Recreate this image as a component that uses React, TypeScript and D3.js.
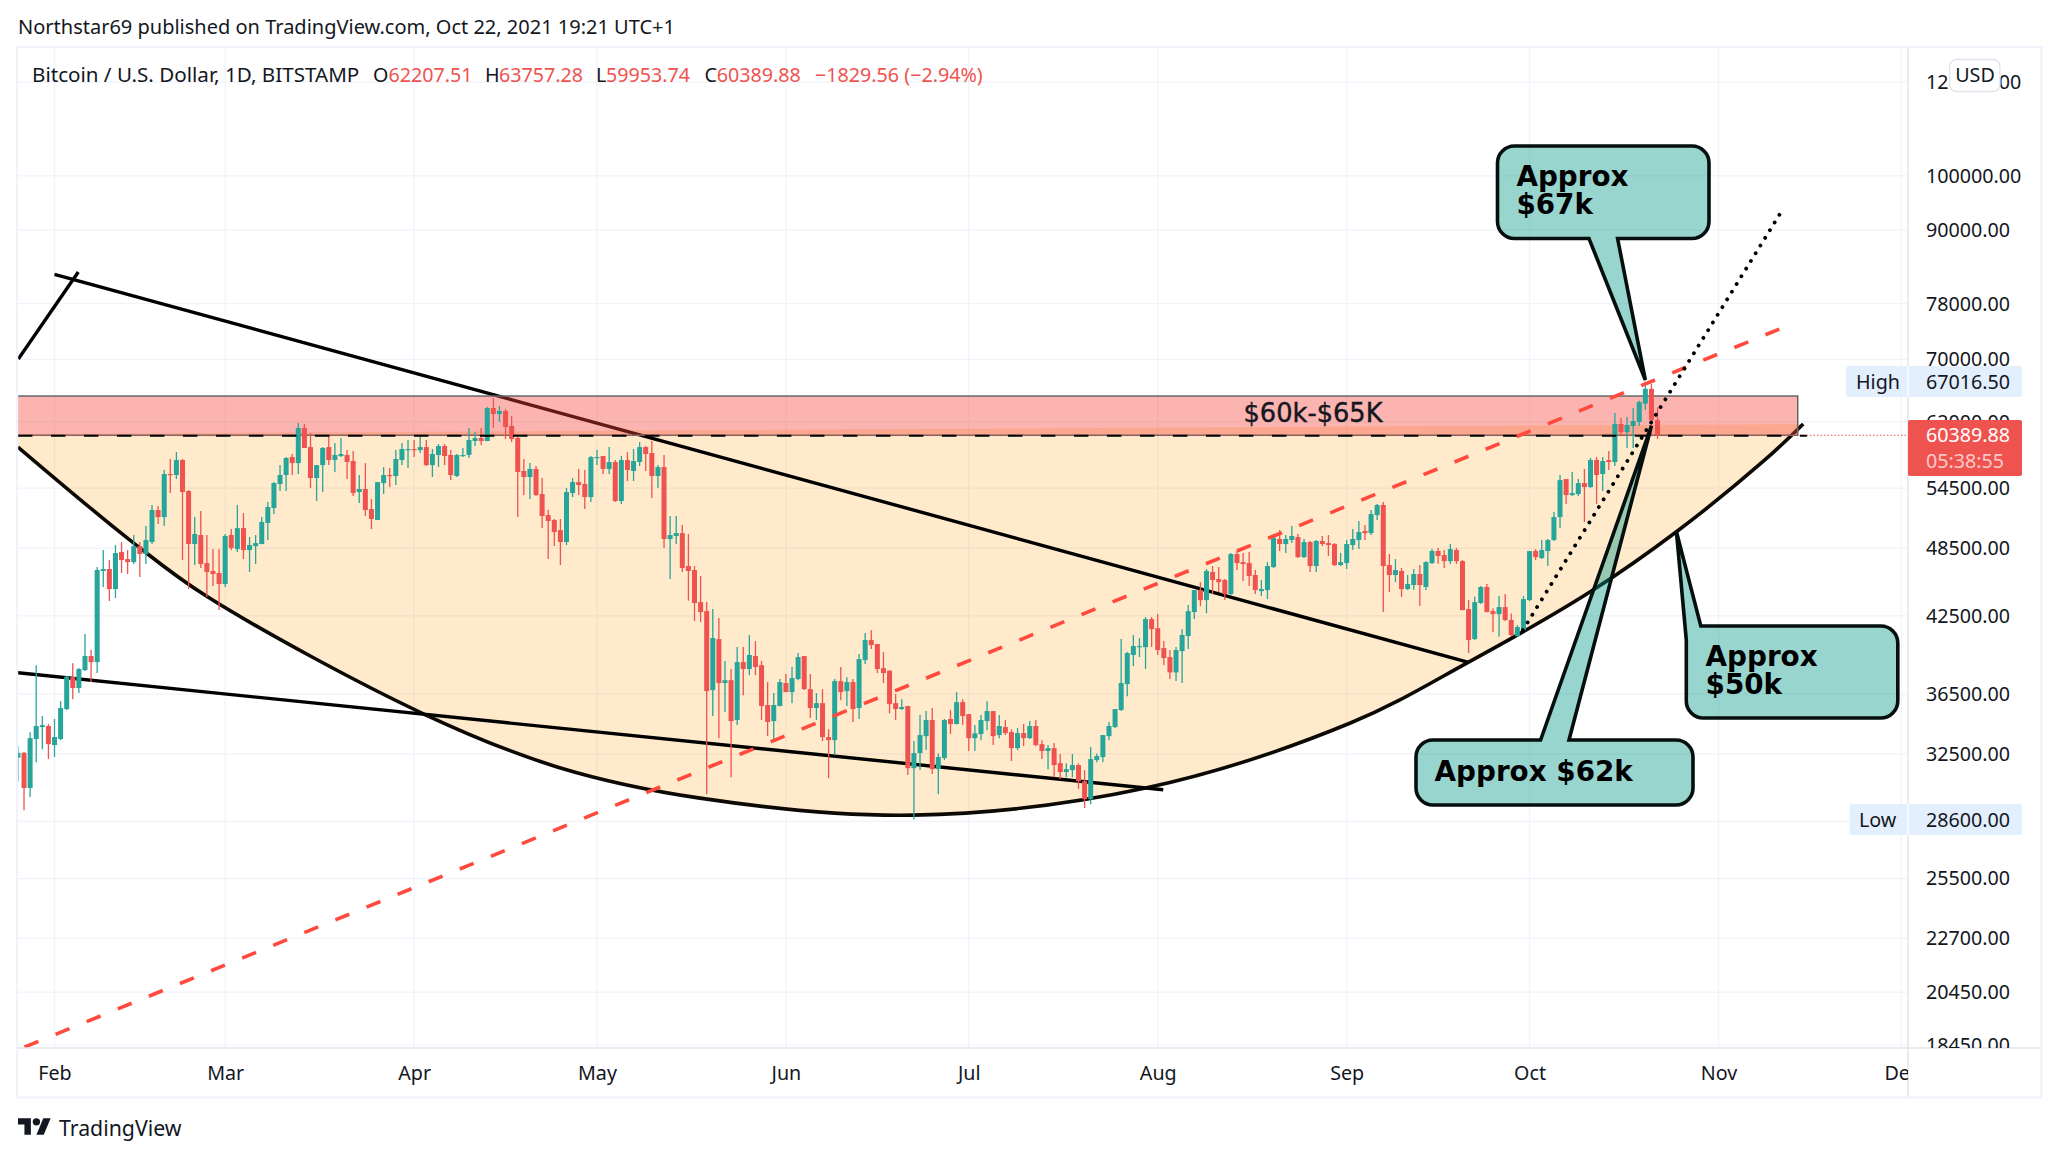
// @ts-nocheck
import React, { useEffect, useRef } from "react";
import * as d3 from "d3";

// daily candles, Jan 26 to Oct 22 2021
const firstCandle = Date.UTC(2021, 0, 26);
const opens = [
  32260,32570,30410,33450,34240,34310,
  33060,33450,35460,37730,36940,38250,39310,38850,46380,46560,44780,48120,47470,47190,48680,47940,49070,52220,51510,56010,55900,57550,54190,48880,49740,47100,46380,46200,
  45220,49740,48400,50420,48310,48680,48880,50920,52420,54930,55900,57890,57210,61250,59020,55570,56990,59020,57550,58000,58120,57440,54080,54400,52320,51220,55030,55900,55790,57550,58680,
  58800,58680,59020,56990,58120,59140,58120,55790,58000,58120,59720,60070,59720,63680,62940,63310,61490,60070,56340,55680,56560,53870,51710,51220,50220,49070,53970,55140,54930,53550,
  57780,58000,56560,57330,53140,57550,56340,57330,59020,58340,55790,56770,49360,49650,49930,46830,46470,43660,42900,36790,40630,37300,37510,34710,38850,38330,39310,38620,35740,34640,35670,
  37300,36650,37590,39310,36860,35530,35870,33580,33380,37440,36720,37370,35530,39000,40550,40240,38400,38200,35870,35460,35670,31610,32550,33640,34710,31550,32240,34780,34440,35940,
  35110,33510,33780,34640,35320,33710,34240,33905,32865,33840,33510,34310,33120,32680,32865,31920,31370,31490,31800,30820,29760,32110,32300,33640,34240,35390,37220,39390,40000,40000,42240,
  41500,39920,39230,38080,39690,40870,42820,44690,43830,46290,45660,45570,44350,47940,47190,47100,46020,44600,44690,46740,49360,48880,49260,49550,47650,49070,46830,49170,48970,48880,46920,
  47100,48780,49260,50130,49930,51710,52730,46920,46020,46380,44780,45130,46110,44960,47100,48220,47840,47280,48310,47280,43070,40630,43580,44960,42900,42650,43240,42160,40870,41340,
  43830,48220,47560,48220,49260,51510,55460,53760,53870,55030,54610,57550,56010,57550,57330,61730,60770,61490,61970,64220,66100,62207.51,
];
const highs = [
  32990,32630,33900,38620,34980,34440,
  34780,36010,37810,38770,38400,41030,39770,46740,48310,47380,48780,49070,48310,49740,49070,50620,52730,52630,56450,57670,58460,57670,54290,51510,52120,49740,48400,48400,
  49840,50320,52730,51910,49550,49740,51510,53040,55140,56990,57890,58230,61850,61730,60660,57000,59020,60310,59490,60070,58680,58570,55900,57210,53350,55140,56770,56670,58680,59490,59840,
  59840,60190,59840,58800,59370,59370,58680,58230,58910,61250,60770,61250,63810,64930,63930,63560,62700,60190,57670,57210,56880,55570,52220,51320,51320,54510,55570,56560,56450,58000,
  58680,58000,59020,57550,58000,58460,58800,59600,59140,59720,56990,58120,51610,51610,50720,49840,46830,45930,43660,43070,42330,38930,38330,40000,40000,40950,40470,38930,37370,36580,37590,
  37960,38480,39540,39320,37960,36580,36860,34100,37590,38480,37730,37590,39470,41110,41340,40240,39620,38250,36510,36150,35680,33320,35050,35320,35530,32530,34780,35390,36650,36150,
  35120,34370,35050,36010,35330,35050,34710,34080,34170,34440,34640,34710,33380,33060,33190,32490,31920,32490,31900,31490,32930,32530,33720,34580,35470,40630,39620,40950,40710,42410,42410,
  42650,40470,39770,40000,41420,43410,44700,45390,46560,46830,46740,45660,48030,48220,48030,48120,46470,45570,47190,49490,50220,49740,50620,49840,49360,49170,49260,49650,49740,48970,48030,
  49260,50320,51120,50720,52220,52830,53040,47940,47470,46650,46020,46560,46920,47280,48400,48500,48310,48880,48500,47380,43830,44110,45040,45220,43150,44170,44350,42710,41750,44170,
  48220,48400,49260,49360,52020,55900,55470,56230,55460,56560,57780,57890,57890,58570,63060,62450,62570,63680,64590,67016.5,66720,63757.28,
];
const lows = [
  30820,29130,29880,31980,32800,32170,
  32300,33380,35390,36150,36580,38180,37370,38030,44960,43750,44000,46200,46110,47010,45840,47010,48880,50820,50620,53970,55460,47380,44780,46920,46650,44090,45040,42990,
  44960,48310,48120,47470,46290,47010,48850,49260,51810,54190,54190,55900,56010,58910,54510,53140,54080,56990,56230,57890,55460,53660,52940,51610,50320,51200,53870,54610,54820,56990,56670,
  57890,58340,56880,55680,56770,56990,55350,55680,57890,57780,59140,59260,59700,61250,61970,59950,59600,51510,53760,53350,53660,50420,47470,48680,46920,48780,53550,53760,52320,53040,
  56990,56010,56010,53040,52830,55250,55250,56880,56340,53450,54510,48500,45660,48880,46290,43780,42080,42000,30050,34980,33510,35250,31060,34370,36430,37880,37880,34710,33640,33380,35660,
  36650,35870,37510,36790,34840,34710,33320,31000,32420,36080,35670,34580,34780,38700,39850,38030,37300,35160,34710,35390,31190,28600,31490,32740,31250,30050,32110,33780,34420,34370,
  32680,32680,33380,34030,33060,33510,33710,32050,32740,32990,33450,32990,32170,31550,31060,30940,31060,31060,30350,29250,29470,31980,31980,33380,34170,35320,36360,38550,39230,38330,40000,
  39390,38620,37590,37440,37300,39850,42240,43320,42730,44350,44520,43830,44260,46470,45480,45040,44350,44170,43910,46650,48220,48030,48970,47560,47560,46290,46290,48680,47750,46830,46830,
  46560,48310,48400,49260,49740,51220,42820,44520,45390,44090,44690,44690,43320,44690,47010,47010,46650,47010,47010,42960,39540,40550,43490,42810,41190,40820,42080,40870,40820,41260,
  43750,47380,47470,46830,49170,50420,52830,53660,53660,51020,54510,52830,54190,56450,56880,60310,58910,58910,61490,63430,60430,59953.74,
];
const closes = [
  32570,30410,33510,34310,34370,33120,
  33580,35530,37760,36940,38330,39310,38850,46470,46560,44780,48030,47380,47190,48680,47940,49260,52220,51510,56010,55900,57550,54080,48880,49840,47010,46290,46110,45220,
  49650,48500,50420,48310,48780,48970,51020,52530,55030,55900,57780,57210,61250,58910,55570,56990,58910,57550,58120,58230,57330,53970,54400,52220,51320,55130,55900,55790,57670,58800,58800,
  58720,59020,56990,58230,59140,58000,55900,58120,58120,59840,60070,59720,63680,62940,63310,61370,59950,56230,55680,56560,53760,51610,51120,50030,49070,54080,55140,54820,53550,57890,
  57890,56560,57330,53140,57550,56450,57440,59020,58230,55790,56770,49360,49740,49930,46650,46380,43580,42820,36720,40710,37300,37510,34640,38850,38330,39390,38480,35670,34580,35740,37370,
  36650,37660,39230,36860,35530,35870,33580,33380,37440,36650,37370,35460,39080,40550,40160,38330,38030,35800,35460,35600,31610,32550,33710,34710,31550,32300,34710,34440,35940,34980,
  33510,33820,34710,35320,33640,34310,33840,32865,33840,33510,34310,33060,32680,32865,31800,31370,31550,31800,30820,29760,32170,32360,33710,34310,35460,37300,39540,40080,40080,42240,41420,
  39770,39160,38080,39770,40950,42900,44690,43830,46380,45570,45390,44350,47940,47100,47010,45930,44690,44780,46830,49480,48880,49360,49650,47650,49070,46830,49170,48880,48780,46920,47190,
  48880,49360,50030,49930,51810,52730,46830,46020,46470,44780,45220,46110,45130,47190,48220,47750,47280,48400,47280,42990,40550,43660,44960,42820,42650,43240,42160,40950,41590,43910,
  48210,47650,48310,49260,51510,55350,53760,53970,55030,54610,57550,55900,57440,57330,61730,60770,61610,62090,64420,66100,62200,60389.88,
];

// axis ticks
const priceTicks = [120000, 100000, 90000, 78000, 70000, 62000, 54500, 48500, 42500, 36500, 32500, 28500, 25500, 22700, 20450, 18450];
const monthStarts = [[2021,1],[2021,2],[2021,3],[2021,4],[2021,5],[2021,6],[2021,7],[2021,8],[2021,9],[2021,10],[2021,11]];

// legend row
const symbolName = "Bitcoin / U.S. Dollar, 1D, BITSTAMP";
const lastOpen = "62207.51";
const lastHigh = "63757.28";
const lastLow = "59953.74";
const lastClose = "60389.88";
const lastChange = "−1829.56 (−2.94%)";
const countdown = "05:38:55";
const sessionHigh = "67016.50";
const sessionLow = "28600.00";

// drawings as [days after Feb 1, price]
const arcPoints = [[-6,59030],[13,48970],[25.1,44110],[60.6,35120],[82.6,31670],[105.9,29820],[140.9,28850],[179,30410],[212.6,34510],[232,38850],[251.9,44520],[266.1,50060],[280.6,57560],[286.9,61730]];
const arcChordLeft = [-6,60540];
const fallingLine = [[0,82590],[232,38830]];
const kinkLine = [[-5.94,70040],[3.9,82950]];
const lowerLine = [[-6,38050],[181.9,30310]];
const redDashLine = [[-4.92,18375],[283,74250]];
const dottedLine = [[240.9,41340],[283.75,94080]];
const zoneTop = 65180;
const zoneBottom = 60390;
const zoneDays = [-8, 286];
const zoneDashLine = [[-6,60340],[287.5,60340]];
const tip67 = [261,67240];
const tip50 = [266.1,50060];
const tip62 = [262,61520];

const uiFont = "'Noto Sans', sans-serif";
const ink = "#131722";
const up = "#26a69a";
const down = "#ef5350";

export default function App() {
  const ref = useRef(null);

  useEffect(() => {
    const svg = d3.select(ref.current);
    svg.selectAll("*").remove();

    const W = 2059, H = 1158;
    const paneL = 18, paneR = 1908, paneT = 48, paneB = 1048, frameR = 2040.5, frameB = 1096.5;

    const feb1 = Date.UTC(2021, 1, 1);
    const x = d3.scaleUtc().domain([new Date(feb1), new Date(Date.UTC(2021, 10, 1))]).range([54.5, 1718.5]);
    const y = d3.scaleLog().domain([120000, 18450]).range([82.2, 1045]);
    const at = ([d, p]) => [x(new Date(feb1 + d * 864e5)), y(p)];
    const lineGen = d3.line();

    svg.append("rect").attr("width", W).attr("height", H).attr("fill", "#fff");

    const defs = svg.append("defs");
    defs.append("clipPath").attr("id", "pane").append("rect")
      .attr("x", paneL).attr("y", paneT).attr("width", paneR - paneL).attr("height", paneB - paneT);
    defs.append("clipPath").attr("id", "priceAxis").append("rect")
      .attr("x", paneR).attr("y", paneT).attr("width", frameR - paneR).attr("height", paneB - paneT);
    defs.append("clipPath").attr("id", "timeAxis").append("rect")
      .attr("x", paneL).attr("y", paneB).attr("width", paneR - paneL).attr("height", frameB - paneB);

    // publisher line
    svg.append("text").attr("x", 18).attr("y", 33.5)
      .attr("font-family", uiFont).attr("font-size", 20).attr("fill", ink)
      .text("Northstar69 published on TradingView.com, Oct 22, 2021 19:21 UTC+1");

    const pane = svg.append("g").attr("clip-path", "url(#pane)");

    // grid
    const monthDates = monthStarts.map(([yr, m]) => new Date(Date.UTC(yr, m, 1)));
    pane.append("g").selectAll("line").data(monthDates).join("line")
      .attr("x1", d => x(d)).attr("x2", d => x(d)).attr("y1", paneT).attr("y2", paneB)
      .attr("stroke", "#f0f3fa").attr("stroke-width", 1.2);
    pane.append("g").selectAll("line").data(priceTicks).join("line")
      .attr("x1", paneL).attr("x2", paneR).attr("y1", d => y(d)).attr("y2", d => y(d))
      .attr("stroke", "#f0f3fa").attr("stroke-width", 1.2);

    // rounding arc, filled up to its chord
    const arcPx = arcPoints.map(at);
    const arcLine = d3.line().curve(d3.curveCatmullRom.alpha(0.5));
    const chordL = at(arcChordLeft);
    pane.append("path")
      .attr("d", arcLine(arcPx) + `L${chordL[0]},${chordL[1]}Z`)
      .attr("fill", "rgba(255,152,0,0.2)");
    pane.append("path").attr("d", arcLine(arcPx)).attr("fill", "none")
      .attr("stroke", "#0d0a05").attr("stroke-width", 3.6);

    // black trend lines
    pane.append("g").selectAll("path").data([fallingLine, kinkLine, lowerLine]).join("path")
      .attr("d", d => lineGen(d.map(at))).attr("fill", "none")
      .attr("stroke", "#000").attr("stroke-width", 3.4);

    // 60-65k zone
    const zx0 = at([zoneDays[0], zoneTop])[0], zx1 = at([zoneDays[1], zoneTop])[0];
    pane.append("rect").attr("x", zx0).attr("y", y(zoneTop))
      .attr("width", zx1 - zx0).attr("height", y(zoneBottom) - y(zoneTop))
      .attr("fill", "rgba(244,67,54,0.4)");
    pane.append("rect").attr("x", zx0).attr("y", y(zoneTop))
      .attr("width", zx1 - zx0).attr("height", y(zoneBottom) - y(zoneTop))
      .attr("fill", "none").attr("stroke", "#666").attr("stroke-width", 1.5);

    // last price line
    pane.append("line").attr("x1", paneL).attr("x2", paneR)
      .attr("y1", y(60389.88)).attr("y2", y(60389.88))
      .attr("stroke", down).attr("stroke-width", 1).attr("stroke-dasharray", "1.5 2");

    // candles
    const candles = opens.map((o, i) => ({
      date: d3.utcDay.offset(new Date(firstCandle), i),
      o, h: highs[i], l: lows[i], c: closes[i],
    }));
    const bodyW = 5;
    const candle = pane.append("g").selectAll("g").data(candles).join("g")
      .attr("fill", d => (d.c >= d.o ? up : down))
      .attr("stroke", d => (d.c >= d.o ? up : down));
    candle.append("line")
      .attr("x1", d => x(d.date)).attr("x2", d => x(d.date))
      .attr("y1", d => y(d.h)).attr("y2", d => y(d.l))
      .attr("stroke-width", 1.3);
    candle.append("rect")
      .attr("x", d => x(d.date) - bodyW / 2).attr("width", bodyW)
      .attr("y", d => y(Math.max(d.o, d.c)))
      .attr("height", d => Math.max(1.2, Math.abs(y(d.o) - y(d.c))))
      .attr("stroke", "none");

    // zone bottom dashes
    pane.append("path").attr("d", lineGen(zoneDashLine.map(at))).attr("fill", "none")
      .attr("stroke", "#000").attr("stroke-width", 2).attr("stroke-dasharray", "14.5 18.5");

    // dashed red channel line and dotted projection
    pane.append("path").attr("d", lineGen(redDashLine.map(at))).attr("fill", "none")
      .attr("stroke", "#ff4a3d").attr("stroke-width", 3.6).attr("stroke-dasharray", "15 18.59");
    pane.append("path").attr("d", lineGen(dottedLine.map(at))).attr("fill", "none")
      .attr("stroke", "#000").attr("stroke-width", 3.8).attr("stroke-linecap", "round").attr("stroke-dasharray", "0.1 8.94");

    pane.append("text").attr("x", 1243.5).attr("y", 422)
      .attr("font-family", "'DejaVu Sans', sans-serif").attr("font-size", 25.7).attr("fill", ink)
      .attr("stroke", ink).attr("stroke-width", 0.4)
      .text("$60k-$65K");

    // callouts
    const roundedPoly = (pts) => {
      const p = d3.path();
      const n = pts.length;
      const mid = [(pts[0][0] + pts[n - 1][0]) / 2, (pts[0][1] + pts[n - 1][1]) / 2];
      p.moveTo(mid[0], mid[1]);
      pts.forEach((v, i) => {
        const next = pts[(i + 1) % n];
        if (v[2]) p.arcTo(v[0], v[1], next[0], next[1], v[2]);
        else p.lineTo(v[0], v[1]);
      });
      p.closePath();
      return p.toString();
    };
    const r = 17;
    const [tAx, tAy] = at(tip67), [tBx, tBy] = at(tip50), [tCx, tCy] = at(tip62);
    const callouts = [
      {
        shape: [[1497.5,146,r],[1709,146,r],[1709,238.5,r],[1617.6,238.5],[tAx,tAy],[1589,238.5],[1497.5,238.5,r]],
        lines: [["Approx",1516.4,186.3],["$67k",1516.4,214]],
      },
      {
        shape: [[1700.8,626],[1897.8,626,r],[1897.8,718,r],[1686.3,718,r],[1686.3,640],[tBx,tBy]],
        lines: [["Approx",1705.6,666],["$50k",1705.6,693.7]],
      },
      {
        shape: [[1416,740,r],[1540.6,740],[tCx,tCy],[1569,740],[1693,740,r],[1693,805,r],[1416,805,r]],
        lines: [["Approx $62k",1434.6,781]],
      },
    ];
    const callout = svg.append("g").selectAll("g").data(callouts).join("g");
    callout.append("path").attr("d", d => roundedPoly(d.shape))
      .attr("fill", "rgba(0,150,136,0.4)").attr("stroke", "#050f0e").attr("stroke-width", 3.6).attr("stroke-linejoin", "miter");
    callout.selectAll("text").data(d => d.lines).join("text")
      .attr("x", d => d[1]).attr("y", d => d[2])
      .attr("font-family", "'DejaVu Sans', sans-serif").attr("font-weight", 700).attr("font-size", 27.8).attr("fill", "#000")
      .text(d => d[0]);

    // legend
    const legend = [
      [symbolName, 32, ink, 20.6], ["O", 373, ink, 19.7], [lastOpen, 388.5, down, 19.7],
      ["H", 485, ink, 19.7], [lastHigh, 499, down, 19.7], ["L", 596, ink, 19.7], [lastLow, 606, down, 19.7],
      ["C", 704.6, ink, 19.7], [lastClose, 716.7, down, 19.7], [lastChange, 815, down, 19.7],
    ];
    svg.append("g").selectAll("text").data(legend).join("text")
      .attr("x", d => d[1]).attr("y", 81.5).attr("fill", d => d[2])
      .attr("font-family", uiFont).attr("font-size", d => d[3]).text(d => d[0]);

    // frame and axis rules
    svg.append("rect").attr("x", paneL - 1).attr("y", paneT - 1).attr("width", frameR - paneL + 2).attr("height", frameB - paneT + 2)
      .attr("fill", "none").attr("stroke", "#f0f3fa").attr("stroke-width", 2.4);
    svg.append("line").attr("x1", paneR).attr("x2", paneR).attr("y1", paneT).attr("y2", frameB).attr("stroke", "#e0e3eb").attr("stroke-width", 1.4);
    svg.append("line").attr("x1", paneL).attr("x2", frameR).attr("y1", paneB).attr("y2", paneB).attr("stroke", "#e0e3eb").attr("stroke-width", 1.4);

    // axes
    const styleAxis = (g) => {
      g.select(".domain").remove();
      g.selectAll(".tick text").attr("font-family", uiFont).attr("font-size", 19.7).attr("fill", ink);
    };
    svg.append("g").attr("clip-path", "url(#priceAxis)")
      .append("g").attr("transform", `translate(${paneR},0)`)
      .call(d3.axisRight(y).tickValues(priceTicks).tickFormat(d3.format(".2f")).tickSize(0).tickPadding(18))
      .call(styleAxis);
    svg.append("g").attr("clip-path", "url(#timeAxis)")
      .append("g").attr("transform", `translate(0,${paneB})`)
      .call(d3.axisBottom(x).tickValues(monthDates).tickFormat(d3.utcFormat("%b")).tickSize(0).tickPadding(18))
      .call(styleAxis);

    // USD button
    svg.append("rect").attr("x", 1949.6).attr("y", 59.5).attr("width", 50.4).attr("height", 32).attr("rx", 7)
      .attr("fill", "#fff").attr("stroke", "#e0e3eb").attr("stroke-width", 1.3);
    svg.append("text").attr("x", 1975).attr("y", 75.5).attr("dy", "0.35em").attr("text-anchor", "middle")
      .attr("font-family", uiFont).attr("font-size", 19.7).attr("fill", ink).text("USD");

    // high / low tags
    const tags = [
      ["High", sessionHigh, 366, 31, 1846, 1856],
      ["Low", sessionLow, 804, 31, 1849.5, 1859],
    ];
    const tag = svg.append("g").selectAll("g").data(tags).join("g");
    tag.append("rect").attr("x", d => d[4]).attr("y", d => d[2]).attr("width", d => 2022 - d[4]).attr("height", d => d[3]).attr("rx", 3).attr("fill", "#e3effd");
    tag.append("line").attr("x1", paneR).attr("x2", paneR).attr("y1", d => d[2]).attr("y2", d => d[2] + d[3]).attr("stroke", "#fff").attr("stroke-width", 1.4);
    tag.append("text").attr("x", d => d[5]).attr("y", d => d[2] + d[3] / 2 + 0.5).attr("dy", "0.35em")
      .attr("font-family", uiFont).attr("font-size", 19.7).attr("fill", ink).text(d => d[0]);
    tag.append("text").attr("x", 1926).attr("y", d => d[2] + d[3] / 2 + 0.5).attr("dy", "0.35em")
      .attr("font-family", uiFont).attr("font-size", 19.7).attr("fill", ink).text(d => d[1]);

    // last price tag
    svg.append("rect").attr("x", paneR).attr("y", 420).attr("width", 114).attr("height", 56).attr("rx", 2).attr("fill", down);
    svg.append("text").attr("x", 1926).attr("y", 435).attr("dy", "0.35em")
      .attr("font-family", uiFont).attr("font-size", 19.7).attr("fill", "#fff").text(lastClose);
    svg.append("text").attr("x", 1926).attr("y", 461).attr("dy", "0.35em")
      .attr("font-family", uiFont).attr("font-size", 19.7).attr("fill", "#fff").attr("fill-opacity", 0.7).text(countdown);

    // TradingView mark
    const logo = svg.append("g").attr("transform", "translate(18,1114.5) scale(0.92)").attr("fill", ink);
    logo.append("path").attr("d", "M14 22H7V11H0V4h14v18zM28 22h-8l7.5-18h8L28 22z");
    logo.append("circle").attr("cx", 20).attr("cy", 8).attr("r", 4);
    svg.append("text").attr("x", 59).attr("y", 1136)
      .attr("font-family", uiFont).attr("font-size", 21.3).attr("fill", ink).text("TradingView");
  }, []);

  return (
    <div style={{ position: "absolute", left: 0, top: 0 }}>
      <svg ref={ref} width={2059} height={1158} style={{ display: "block" }} />
    </div>
  );
}
